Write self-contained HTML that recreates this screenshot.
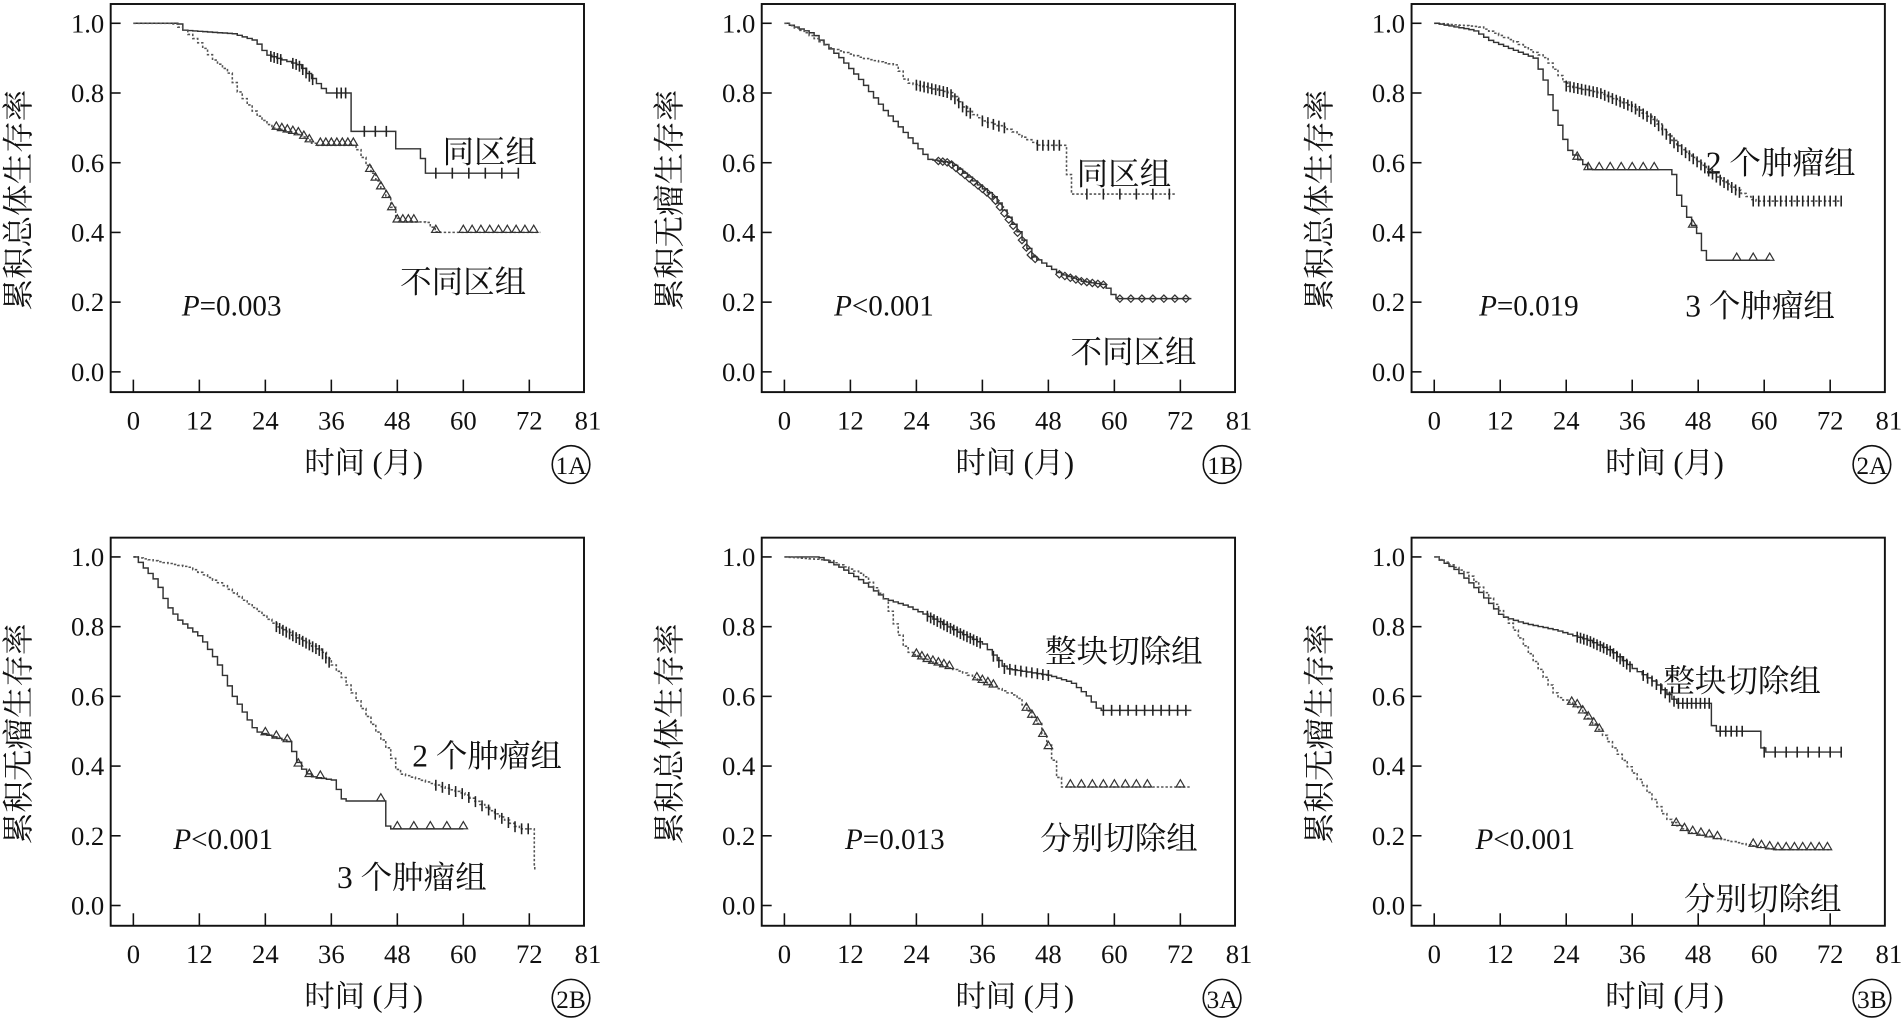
<!DOCTYPE html>
<html><head><meta charset="utf-8"><style>
html,body{margin:0;padding:0;background:#fff;}
svg{display:block}
text{font-family:"Liberation Serif","Noto Serif CJK SC","Noto Sans CJK SC",serif;fill:#111}
</style></head><body>
<svg id="s" width="1901" height="1020" viewBox="0 0 1568 841" preserveAspectRatio="none" xmlns="http://www.w3.org/2000/svg"></svg>
<script>
const S=document.getElementById('s');
const X=t=>110+t*4.536, Y=s=>306.6-s*287.4;
const panels=[
 {ox:0,oy:0,yl:'累积总体生存率',id:'1A',p:['P','=0.003',150],
  labels:[['同区组',365,125],['不同区组',330,232]],
  curves:[
   {d:0,k:[[0,1],[8,1],[9,0.98],[18,0.97],[22,0.95],[24,0.91],[30,0.88],[35,0.8],[39,0.8],[39.5,0.69],[47,0.69],[47.5,0.64],[52,0.64],[52.5,0.57],[70,0.57]],m:'t',c:[[25,27,0.6],[29,33,0.6],[37,39,0.8],[42,47,2],[55,70,3]]},
   {d:1,k:[[0,1],[7,1],[9,0.98],[12,0.94],[14,0.9],[17,0.86],[19,0.8],[22,0.74],[25,0.7],[30,0.68],[33,0.65],[40,0.65],[42,0.6],[44,0.55],[46,0.5],[48,0.43],[53,0.43],[55,0.4],[74,0.4]],m:'a',c:[[26,32,1],[34,40,1],[43,47,1],[48,51,1],[55,55],[60,74,1.6]]}]},
 {ox:537,oy:0,yl:'累积无瘤生存率',id:'1B',p:['P','<0.001',151],
  labels:[['同区组',351,143],['不同区组',346,290]],
  curves:[
   {d:0,k:[[0,1],[5,0.97],[10,0.9],[14,0.83],[18,0.75],[22,0.68],[26,0.61],[30,0.6],[34,0.55],[38,0.5],[42,0.41],[45,0.33],[50,0.28],[54,0.26],[58,0.25],[60,0.21],[74,0.21]],m:'d',c:[[28,46,0.8],[50,58,1],[61,74,2]]},
   {d:1,k:[[0,1],[4,0.97],[8,0.93],[14,0.9],[20,0.88],[22,0.83],[30,0.8],[33,0.75],[36,0.72],[40,0.7],[46,0.65],[51,0.65],[51.5,0.51],[71,0.51]],m:'t',c:[[24,34,0.7],[36,40,1],[46,50,1],[55,70,3]]}]},
 {ox:1073,oy:0,yl:'累积总体生存率',id:'2A',p:['P','=0.019',147],
  labels:[['2 个肿瘤组',334,134],['3 个肿瘤组',317,252]],
  curves:[
   {d:1,k:[[0,1],[8,0.99],[14,0.95],[20,0.9],[24,0.82],[30,0.8],[36,0.76],[40,0.72],[44,0.65],[48,0.6],[52,0.55],[56,0.51],[58,0.49],[74,0.49]],m:'t',c:[[24,56,0.7],[58,74,1]]},
   {d:0,k:[[0,1],[7,0.98],[10,0.95],[18,0.9],[20,0.83],[22,0.73],[24,0.64],[28,0.58],[43,0.58],[44,0.51],[46,0.44],[48,0.39],[49,0.32],[61,0.32]],m:'a',c:[[26,40,2],[47,47],[55,61,3]]}]},
 {ox:0,oy:440,yl:'累积无瘤生存率',id:'2B',p:['P','<0.001',143],
  labels:[['2 个肿瘤组',340,183],['3 个肿瘤组',278,283]],
  curves:[
   {d:1,k:[[0,1],[10,0.97],[16,0.92],[22,0.85],[26,0.8],[34,0.73],[38,0.65],[42,0.55],[46,0.45],[48,0.38],[56,0.34],[60,0.32],[66,0.26],[70,0.22],[72,0.22],[73,0.1]],m:'t',c:[[26,36,0.6],[55,72,1.2]]},
   {d:0,k:[[0,1],[4,0.93],[6,0.86],[8,0.82],[12,0.77],[15,0.7],[18,0.6],[20,0.55],[22,0.5],[28,0.47],[30,0.4],[32,0.37],[36,0.36],[38,0.3],[45,0.3],[46,0.22],[60,0.22]],m:'a',c:[[24,34,2],[45,60,3]]}]},
 {ox:537,oy:440,yl:'累积总体生存率',id:'3A',p:['P','=0.013',160],
  labels:[['整块切除组',325,97],['分别切除组',321,251]],
  curves:[
   {d:0,k:[[0,1],[6,1],[10,0.97],[14,0.93],[18,0.88],[22,0.86],[26,0.83],[32,0.78],[36,0.75],[40,0.68],[48,0.66],[52,0.64],[55,0.6],[57,0.56],[74,0.56]],m:'t',c:[[26,36,0.6],[38,48,1],[58,74,1.5]]},
   {d:1,k:[[0,1],[8,0.99],[14,0.95],[18,0.88],[20,0.8],[22,0.73],[26,0.7],[32,0.67],[36,0.64],[42,0.6],[46,0.52],[48,0.45],[50,0.34],[74,0.34]],m:'a',c:[[24,30,1],[35,38,1],[44,48,1],[52,66,2],[72,72]]}]},
 {ox:1073,oy:440,yl:'累积无瘤生存率',id:'3B',p:['P','<0.001',144],
  labels:[['整块切除组',299,121],['分别切除组',316,301]],
  curves:[
   {d:0,k:[[0,1],[4,0.96],[8,0.9],[12,0.83],[16,0.81],[22,0.79],[28,0.76],[32,0.73],[36,0.68],[40,0.64],[44,0.58],[50,0.58],[50.5,0.5],[59,0.5],[59.5,0.44],[74,0.44]],m:'t',c:[[26,36,0.6],[38,50,0.8],[52,56,1],[60,74,2]]},
   {d:1,k:[[0,1],[6,0.95],[10,0.88],[14,0.8],[18,0.7],[22,0.6],[26,0.57],[30,0.5],[34,0.42],[38,0.34],[42,0.25],[46,0.21],[52,0.19],[58,0.17],[62,0.16],[72,0.16]],m:'a',c:[[25,30,1],[44,52,1.5],[58,72,1.5]]}]}
];
let h='';
function sAt(k,t){for(let i=1;i<k.length;i++){if(t<=k[i][0]){const a=k[i-1],b=k[i];const f=(t-a[0])/(b[0]-a[0]||1);return a[1]+(b[1]-a[1])*f;}}return k[k.length-1][1];}
for(const P of panels){
 h+=`<g transform="translate(${P.ox},${P.oy})">`;
 h+=`<rect x="91.3" y="3.3" width="390.4" height="320" fill="none" stroke="#111" stroke-width="1.6"/>`;
 [0,.2,.4,.6,.8,1].forEach(v=>{h+=`<line x1="91.3" x2="99.5" y1="${Y(v)}" y2="${Y(v)}" stroke="#111" stroke-width="1.3"/><text x="86" y="${Y(v)+7.5}" font-size="22" text-anchor="end">${v.toFixed(1)}</text>`;});
 [0,12,24,36,48,60,72,81].forEach(v=>{const x=X(v);if(v<81)h+=`<line x1="${x}" x2="${x}" y1="323.3" y2="313" stroke="#111" stroke-width="1.3"/>`;h+=`<text x="${v==81?485:x}" y="354" font-size="22" text-anchor="middle">${v}</text>`;});
 h+=`<text transform="translate(24,165) rotate(-90)" font-size="26" text-anchor="middle">${P.yl}</text>`;
 h+=`<text x="300" y="390" font-size="25" text-anchor="middle">时间 (月)</text>`;
 h+=`<circle cx="471" cy="383" r="15.5" fill="none" stroke="#111" stroke-width="1.3"/><text x="471" y="391" font-size="21" text-anchor="middle">${P.id}</text>`;
 h+=`<text x="${P.p[2]}" y="260" font-size="24"><tspan font-style="italic">${P.p[0]}</tspan>${P.p[1]}</text>`;
 for(const L of P.labels)h+=`<text x="${L[1]}" y="${L[2]+9}" font-size="26">${L[0]}</text>`;
 for(const C of P.curves){
  const k=C.k,tEnd=k[k.length-1][0];let d=`M${X(0)},${Y(1)}`;let t=0,s=1;
  while(t<tEnd){t=Math.min(tEnd,t+0.9);const ns=sAt(k,t);d+=`H${X(t).toFixed(1)}V${Y(ns).toFixed(1)}`;}
  h+=`<path d="${d}" fill="none" stroke="${C.d?'#555':'#333'}" stroke-width="${C.d?1.3:1.2}" ${C.d?'stroke-dasharray="2 1.6"':''}/>`;
  for(const r of C.c){const st=r[2]||1;for(let t=r[0];t<=r[1]+0.01;t+=st){const x=X(t),y=Y(sAt(k,t));
   if(C.m=='t')h+=`<line x1="${x}" x2="${x}" y1="${y-4.5}" y2="${y+4.5}" stroke="#222" stroke-width="1.3"/>`;
   else if(C.m=='a')h+=`<path d="M${x-3.5},${y}L${x},${y-6}L${x+3.5},${y}Z" fill="none" stroke="#333" stroke-width="1"/>`;
   else h+=`<path d="M${x-3},${y}L${x},${y-3}L${x+3},${y}L${x},${y+3}Z" fill="none" stroke="#333" stroke-width="1"/>`;}}
 }
 h+='</g>';
}
S.innerHTML=h;
</script>
</body></html>
